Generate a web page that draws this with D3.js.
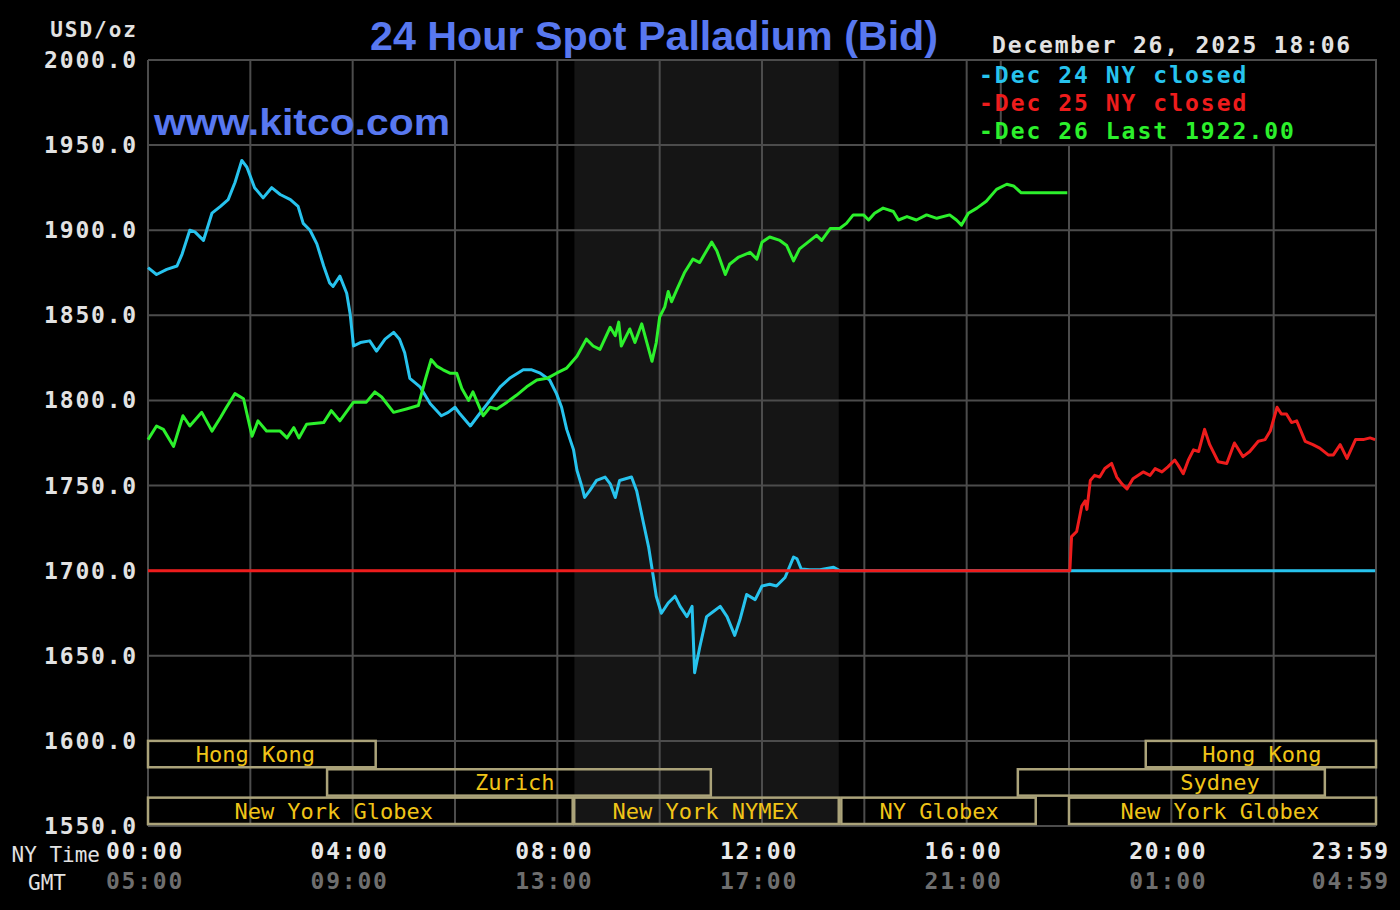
<!DOCTYPE html>
<html>
<head>
<meta charset="utf-8">
<script src="https://cdn.jsdelivr.net/npm/d3@7/dist/d3.min.js"></script>
<style>
body { margin: 0; background: #000; }
svg { display: block; }
</style>
</head>
<body>
<svg id="chart" width="1400" height="910"></svg>
<script>
const margin = {top: 60, right: 24, bottom: 84, left: 148};

// axis stuff
const yTicks = [1550, 1600, 1650, 1700, 1750, 1800, 1850, 1900, 1950, 2000];
const gridMinutes = [0, 120, 240, 360, 480, 600, 720, 840, 960, 1080, 1200, 1320, 1440];
const labelMinutes = [0, 240, 480, 720, 960, 1200, 1439];
const nyLabels = ["00:00", "04:00", "08:00", "12:00", "16:00", "20:00", "23:59"];
const gmtLabels = ["05:00", "09:00", "13:00", "17:00", "21:00", "01:00", "04:59"];

// NYMEX pit hours (shaded)
const pitStart = 500;
const pitEnd = 810;

// Dec 24 (minutes after midnight NY, price)
const dec24Time = [0, 10, 22, 34, 40, 49, 55, 65, 75, 85, 94, 102, 110, 116, 125, 135, 145, 155, 167, 176,
	182, 190, 198, 206, 213, 217, 225, 233, 237, 241, 249, 260, 268, 278, 288, 295, 301, 307, 319, 331,
	344, 352, 360, 366, 378, 387, 401, 413, 424, 440, 450, 460, 471, 479, 485, 491, 499, 503, 509, 512,
	518, 526, 536, 542, 548, 553, 567, 573, 581, 587, 593, 596, 602, 610, 618, 624, 632, 638, 641, 647,
	655, 663, 671, 679, 688, 694, 702, 712, 720, 729, 737, 747, 757, 761, 766, 776, 788, 804, 811, 1439];
const dec24Price = [1878, 1874, 1877, 1879, 1886, 1900, 1899, 1894, 1910, 1914, 1918, 1928, 1941, 1937, 1925, 1919, 1925, 1921, 1918, 1914,
	1904, 1900, 1892, 1879, 1869, 1867, 1873, 1863, 1851, 1832, 1834, 1835, 1829, 1836, 1840, 1836, 1828, 1813, 1808, 1798,
	1791, 1793, 1796, 1792, 1785, 1791, 1800, 1808, 1813, 1818, 1818, 1816, 1812, 1804, 1796, 1783, 1771, 1759, 1749, 1743,
	1747, 1753, 1755, 1751, 1743, 1753, 1755, 1747, 1728, 1714, 1695, 1685, 1675, 1681, 1685, 1679, 1673, 1679, 1640, 1655,
	1673, 1676, 1679, 1673, 1662, 1671, 1686, 1683, 1691, 1692, 1691, 1696, 1708, 1707, 1701, 1700.5, 1700.5, 1702, 1700, 1700];

// Dec 25
const dec25Time = [0, 1081, 1083, 1089, 1095, 1099, 1101, 1105, 1110, 1116, 1122, 1130, 1136, 1142, 1148, 1155, 1167, 1175, 1181, 1189,
	1196, 1204, 1208, 1214, 1220, 1226, 1232, 1239, 1245, 1255, 1265, 1274, 1284, 1292, 1302, 1310, 1316, 1324, 1329, 1335,
	1341, 1347, 1357, 1366, 1374, 1384, 1390, 1398, 1406, 1416, 1425, 1433, 1439];
const dec25Price = [1700, 1700, 1720, 1723, 1738, 1741, 1736, 1753, 1756, 1755, 1760, 1763, 1755, 1751, 1748, 1754, 1758, 1756, 1760, 1758,
	1761, 1765, 1762, 1757, 1765, 1771, 1770, 1783, 1774, 1764, 1763, 1775, 1767, 1770, 1776, 1777, 1782, 1796, 1792, 1792,
	1787, 1788, 1776, 1774, 1772, 1768, 1768, 1774, 1766, 1777, 1777, 1778, 1777];

// Dec 26
const dec26Time = [0, 10, 18, 30, 41, 49, 63, 75, 85, 92, 102, 112, 122, 129, 139, 155, 163, 171, 177, 186,
	206, 215, 225, 241, 256, 266, 274, 288, 303, 317, 325, 332, 339, 346, 354, 362, 368, 376, 381, 387,
	393, 401, 409, 421, 432, 444, 456, 468, 479, 491, 503, 514, 522, 530, 542, 548, 552, 555, 565, 571,
	579, 585, 591, 596, 600, 606, 610, 614, 620, 629, 639, 647, 655, 661, 667, 677, 682, 692, 706, 714,
	720, 729, 741, 749, 757, 764, 774, 784, 790, 800, 811, 819, 827, 839, 845, 852, 862, 874, 880, 890,
	901, 913, 925, 940, 948, 954, 962, 972, 983, 995, 1007, 1015, 1024, 1078];
const dec26Price = [1777, 1785, 1783, 1773, 1791, 1785, 1793, 1782, 1790, 1796, 1804, 1801, 1779, 1788, 1782, 1782, 1778, 1784, 1778, 1786,
	1787, 1794, 1788, 1799, 1799, 1805, 1802, 1793, 1795, 1797, 1812, 1824, 1820, 1818, 1816, 1816, 1807, 1800, 1805, 1798,
	1791, 1796, 1795, 1799, 1803, 1808, 1812, 1813, 1816, 1819, 1826, 1836, 1832, 1830, 1843, 1838, 1846, 1832, 1842, 1834,
	1845, 1834, 1823, 1834, 1849, 1855, 1864, 1858, 1865, 1875, 1883, 1881, 1888, 1893, 1888, 1874, 1880, 1884, 1887, 1883,
	1893, 1896, 1894, 1891, 1882, 1889, 1893, 1897, 1894, 1901, 1901, 1904, 1909, 1909, 1906, 1910, 1913, 1911, 1906, 1908,
	1906, 1909, 1907, 1909, 1906, 1903, 1910, 1913, 1917, 1924, 1927, 1926, 1922, 1922];

const legendLabels = ["-Dec 24 NY closed", "-Dec 25 NY closed", "-Dec 26 Last 1922.00"];
const seriesColors = ["#27c3ee", "#ee1c1c", "#2cf02c"];

// trading sessions (hours)
const sessionNames = ["Hong Kong", "Zurich", "New York Globex", "New York NYMEX", "NY Globex", "New York Globex", "Sydney", "Hong Kong"];
const sessionRow = [0, 1, 2, 2, 2, 2, 1, 0];
const sessionStart = [0, 3.5, 0, 8.33, 13.55, 18, 17, 19.5];
const sessionEnd = [4.45, 11, 8.3, 13.5, 17.35, 24, 23, 24];
const sessionLabelAt = [2.1, 7.17, 3.63, 10.89, 15.46, 20.95, 20.95, 21.77];

var svg = d3.select("#chart");
var width = 1400, height = 910;

var x = d3.scaleLinear()
	.domain([0, 1440])
	.range([margin.left, width - margin.right]);
var y = d3.scaleLinear()
	.domain([1550, 2000])
	.range([height - margin.bottom, margin.top]);

const mono = "'DejaVu Sans Mono', monospace";

// shaded pit session
svg.append("rect")
	.attr("x", x(pitStart))
	.attr("y", y(2000))
	.attr("width", x(pitEnd) - x(pitStart))
	.attr("height", y(1550) - y(2000))
	.attr("fill", "#151515");

// grid
svg.append("g")
	.selectAll("line")
	.data(yTicks)
	.enter()
	.append("line")
		.attr("x1", x(0))
		.attr("x2", x(1440))
		.attr("y1", d => y(d))
		.attr("y2", d => y(d))
		.attr("stroke", "#4c4c4c")
		.attr("stroke-width", 2);
svg.append("g")
	.selectAll("line")
	.data(gridMinutes)
	.enter()
	.append("line")
		.attr("x1", d => x(d))
		.attr("x2", d => x(d))
		.attr("y1", y(2000))
		.attr("y2", y(1550))
		.attr("stroke", "#4c4c4c")
		.attr("stroke-width", 2);

// session boxes
var rowH = (y(1550) - y(1600)) / 3;
var sessions = svg.append("g");
sessionNames.forEach(function(name, i){
	var x0 = x(sessionStart[i] * 60), x1 = x(sessionEnd[i] * 60);
	var top = y(1600) + sessionRow[i] * rowH;
	sessions.append("rect")
		.attr("x", x0)
		.attr("y", top)
		.attr("width", x1 - x0)
		.attr("height", rowH - 2)
		.attr("fill", "none")
		.attr("stroke", "#aba37a")
		.attr("stroke-width", 2.5);
	sessions.append("text")
		.attr("x", x(sessionLabelAt[i] * 60))
		.attr("y", top + rowH / 2 + 7)
		.attr("text-anchor", "middle")
		.style("font", "22px " + mono)
		.attr("fill", "#f0c418")
		.text(name);
});

// price lines
var line = d3.line()
	.x(d => x(d[0]))
	.y(d => y(d[1]));
var seriesData = [
	d3.zip(dec24Time, dec24Price),
	d3.zip(dec26Time, dec26Price),
	d3.zip(dec25Time, dec25Price)
];
var drawColors = [seriesColors[0], seriesColors[2], seriesColors[1]];
seriesData.forEach(function(d, i){
	svg.append("path")
		.datum(d)
		.attr("fill", "none")
		.attr("stroke", drawColors[i])
		.attr("stroke-width", 3)
		.attr("stroke-linejoin", "round")
		.attr("d", line);
});

// legend box
svg.append("rect")
	.attr("x", x(1000))
	.attr("y", y(2000))
	.attr("width", x(1440) - x(1000))
	.attr("height", y(1950) - y(2000))
	.attr("fill", "#000")
	.attr("stroke", "#4c4c4c")
	.attr("stroke-width", 2);
svg.append("g")
	.selectAll("text")
	.data(legendLabels)
	.enter()
	.append("text")
		.attr("x", 979)
		.attr("y", (d, i) => 83 + i * 28)
		.style("font", "bold 23px " + mono)
		.style("letter-spacing", "2px")
		.attr("fill", (d, i) => seriesColors[i])
		.text(d => d);

// y labels
svg.append("g")
	.selectAll("text")
	.data(yTicks)
	.enter()
	.append("text")
		.attr("x", 138)
		.attr("y", d => y(d) + 8)
		.attr("text-anchor", "end")
		.style("font", "bold 23px " + mono)
		.style("letter-spacing", "1.8px")
		.attr("fill", "#e2e2e2")
		.text(d => d.toFixed(1));

svg.append("text")
	.attr("x", 138)
	.attr("y", 37)
	.attr("text-anchor", "end")
	.style("font", "bold 21px " + mono)
	.style("letter-spacing", "2px")
	.attr("fill", "#e2e2e2")
	.text("USD/oz");

// x labels
svg.append("g")
	.selectAll("text")
	.data(labelMinutes)
	.enter()
	.append("text")
		.attr("x", (d, i) => i == labelMinutes.length - 1 ? 1390 : x(d) - 3)
		.attr("y", 859)
		.attr("text-anchor", (d, i) => i == labelMinutes.length - 1 ? "end" : "middle")
		.style("font", "bold 23px " + mono)
		.style("letter-spacing", "1.8px")
		.attr("fill", "#e8e8e8")
		.text((d, i) => nyLabels[i]);
svg.append("g")
	.selectAll("text")
	.data(labelMinutes)
	.enter()
	.append("text")
		.attr("x", (d, i) => i == labelMinutes.length - 1 ? 1390 : x(d) - 3)
		.attr("y", 889)
		.attr("text-anchor", (d, i) => i == labelMinutes.length - 1 ? "end" : "middle")
		.style("font", "bold 23px " + mono)
		.style("letter-spacing", "1.8px")
		.attr("fill", "#6e6e6e")
		.text((d, i) => gmtLabels[i]);

svg.append("text")
	.attr("x", 100)
	.attr("y", 862)
	.attr("text-anchor", "end")
	.style("font", "21px " + mono)
	.attr("fill", "#e2e2e2")
	.text("NY Time");
svg.append("text")
	.attr("x", 66)
	.attr("y", 890)
	.attr("text-anchor", "end")
	.style("font", "21px " + mono)
	.attr("fill", "#e2e2e2")
	.text("GMT");

// title, date, watermark
svg.append("text")
	.attr("x", 654)
	.attr("y", 50)
	.attr("text-anchor", "middle")
	.attr("textLength", 568)
	.attr("lengthAdjust", "spacingAndGlyphs")
	.style("font", "bold 41px 'Liberation Sans', Arial, sans-serif")
	.attr("fill", "#5878f0")
	.text("24 Hour Spot Palladium (Bid)");

svg.append("text")
	.attr("x", 1352)
	.attr("y", 53)
	.attr("text-anchor", "end")
	.style("font", "bold 23px " + mono)
	.style("letter-spacing", "1.8px")
	.attr("fill", "#e2e2e2")
	.text("December 26, 2025 18:06");

svg.append("text")
	.attr("x", 154)
	.attr("y", 135)
	.attr("textLength", 296)
	.attr("lengthAdjust", "spacingAndGlyphs")
	.style("font", "bold 36px 'Liberation Sans', Arial, sans-serif")
	.attr("fill", "#5878f0")
	.text("www.kitco.com");
</script>
</body>
</html>
